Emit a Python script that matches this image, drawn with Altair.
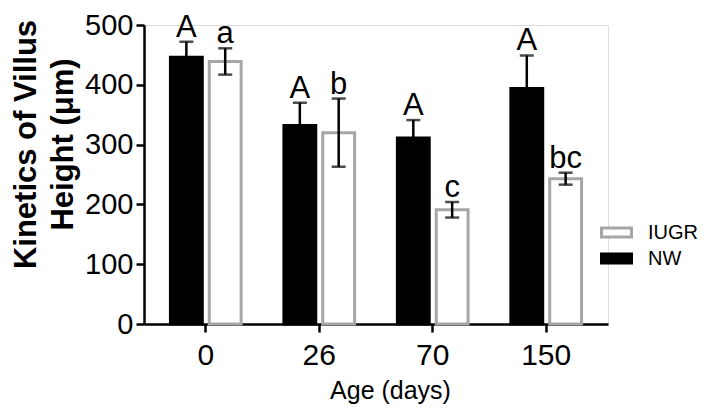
import altair as alt
import pandas as pd

ages = ["0", "26", "70", "150"]
nw_mean = [446, 332, 311, 394]
nw_err = [26, 38, 30, 55]
iugr_mean = [439, 320, 191, 243]
iugr_err = [22, 57, 13, 10]
nw_letters = ["A", "A", "A", "A"]
iugr_letters = ["a", "b", "c", "bc"]

rows = []
for i, a in enumerate(ages):
    rows.append(dict(age=a, group="NW", mean=nw_mean[i], lo=nw_mean[i] - nw_err[i],
                     hi=nw_mean[i] + nw_err[i], letter=nw_letters[i]))
    rows.append(dict(age=a, group="IUGR", mean=iugr_mean[i], lo=iugr_mean[i] - iugr_err[i],
                     hi=iugr_mean[i] + iugr_err[i], letter=iugr_letters[i]))
df = pd.DataFrame(rows)

FONT = "Liberation Sans"

x = alt.X("age:N", sort=ages,
          scale=alt.Scale(paddingInner=0.377, paddingOuter=0.233),
          axis=alt.Axis(title="Age (days)", labelAngle=0, labelFontSize=30, labelFont=FONT,
                        labelColor="black", labelPadding=8, tickSize=8, tickWidth=2.5,
                        tickColor="black", domainColor="black", domainWidth=2.5,
                        titleFont=FONT, titleFontSize=25, titleFontWeight="normal",
                        titleColor="black", titleX=246, titleY=74,
                        titleBaseline="alphabetic", titleAnchor="middle", titleAlign="center"))
xo = alt.XOffset("group:N", sort=["NW", "IUGR"],
                 scale=alt.Scale(paddingInner=0.18, paddingOuter=0))
yscale = alt.Scale(domain=[0, 500], nice=False)

legend = alt.Legend(title=None, orient="none", legendX=461, legendY=196,
                    labelFontSize=20, labelFont=FONT, labelColor="black", labelLimit=200,
                    symbolType="M-1.5,-0.45L1.5,-0.45L1.5,0.45L-1.5,0.45Z",
                    symbolSize=400, symbolStrokeWidth=3, rowPadding=4,
                    labelOffset=20, padding=0)

bars = alt.Chart(df).mark_bar(strokeWidth=3).encode(
    x=x,
    xOffset=xo,
    y=alt.Y("mean:Q", scale=yscale,
            axis=alt.Axis(title=["Kinetics of Villus", "Height (\u03bcm)"], values=[0, 100, 200, 300, 400, 500],
                          labelFontSize=29, labelFont=FONT, labelColor="black", labelPadding=3,
                          tickSize=8, tickWidth=2.5, tickColor="black", domainColor="black",
                          domainWidth=2.5, grid=False,
                          titleFont=FONT, titleFontSize=31, titleFontWeight="bold", titleColor="black",
                          titleX=-133, titleY=119, titleBaseline="top", titleLineHeight=37,
                          titleAngle=-90, titleAlign="center")),
    fill=alt.Fill("group:N", scale=alt.Scale(domain=["IUGR", "NW"], range=["white", "black"]),
                  legend=legend),
    stroke=alt.Stroke("group:N", scale=alt.Scale(domain=["IUGR", "NW"], range=["#a6a6a6", "black"]),
                      legend=legend),
)

err = alt.Chart(df).mark_rule(color="black", strokeWidth=2.5).encode(
    x=alt.X("age:N", sort=ages), xOffset=xo,
    y=alt.Y("lo:Q", scale=yscale), y2="hi:Q")

cap_hi = alt.Chart(df).mark_tick(color="black", thickness=2.5, size=14).encode(
    x=alt.X("age:N", sort=ages), xOffset=xo, y=alt.Y("hi:Q", scale=yscale))
cap_lo = alt.Chart(df).mark_tick(color="black", thickness=2.5, size=14).encode(
    x=alt.X("age:N", sort=ages), xOffset=xo, y=alt.Y("lo:Q", scale=yscale))

letters = alt.Chart(df).mark_text(font=FONT, fontSize=31, color="black",
                                  baseline="alphabetic", dy=-5).encode(
    x=alt.X("age:N", sort=ages), xOffset=xo, y=alt.Y("hi:Q", scale=yscale), text="letter:N")

chart = alt.layer(bars, err, cap_hi, cap_lo, letters).properties(
    width=464, height=299,
    autosize=alt.AutoSizeParams(type="none"),
    padding={"left": 136, "top": 17, "right": 92, "bottom": 81},
).configure_view(stroke=None).configure(background="white")

chart.save("out.html", embed_options={"renderer": "svg", "actions": False})
